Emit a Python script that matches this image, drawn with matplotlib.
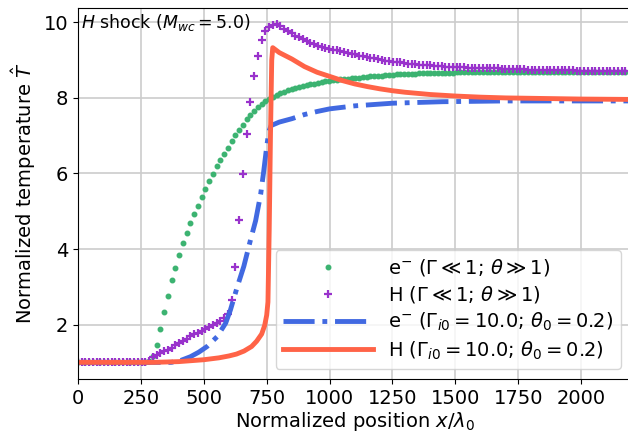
import matplotlib
matplotlib.use("Agg")
import matplotlib.pyplot as plt
import numpy as np

# spacing of the kinetic (Gamma << 1) output points, in x/lambda_0
DX = 14.9

# e- temperature, Gamma << 1, theta >> 1 (one value every DX)
t_e_kin = [
    1.00, 1.00, 1.00, 1.00, 1.00, 1.00, 1.00, 1.00, 1.00, 1.00,
    1.00, 1.00, 1.00, 1.00, 1.00, 1.00, 1.00, 1.00, 1.00, 1.03,
    1.18, 1.46, 1.89, 2.34, 2.77, 3.17, 3.51, 3.84, 4.15, 4.42,
    4.68, 4.93, 5.15, 5.38, 5.59, 5.79, 5.99, 6.19, 6.35, 6.52,
    6.68, 6.85, 7.01, 7.16, 7.29, 7.43, 7.56, 7.66, 7.76, 7.84,
    7.91, 7.97, 8.03, 8.08, 8.12, 8.16, 8.20, 8.23, 8.26, 8.29,
    8.32, 8.34, 8.36, 8.38, 8.40, 8.42, 8.44, 8.46, 8.47, 8.48,
    8.49, 8.50, 8.51, 8.52, 8.53, 8.54, 8.55, 8.56, 8.57, 8.58,
    8.58, 8.59, 8.60, 8.60, 8.61, 8.62, 8.62, 8.63, 8.63, 8.64,
    8.64, 8.65, 8.65, 8.65, 8.66, 8.66, 8.66, 8.67, 8.67, 8.67,
    8.67, 8.68, 8.68, 8.68, 8.68, 8.68, 8.68, 8.68, 8.68, 8.68,
    8.68, 8.68, 8.68, 8.68, 8.68, 8.68, 8.68, 8.68, 8.68, 8.68,
    8.68, 8.68, 8.68, 8.68, 8.68, 8.69, 8.69, 8.69, 8.69, 8.69,
    8.69, 8.69, 8.69, 8.69, 8.69, 8.69, 8.69, 8.69, 8.69, 8.69,
    8.69, 8.69, 8.69, 8.69, 8.69, 8.69, 8.69,
]

# H temperature, Gamma << 1, theta >> 1 (one value every DX)
t_h_kin = [
    1.00, 1.00, 1.00, 1.00, 1.00, 1.00, 1.00, 1.00, 1.00, 1.00,
    1.00, 1.00, 1.00, 1.00, 1.00, 1.00, 1.00, 1.00, 1.00, 1.03,
    1.14, 1.19, 1.24, 1.29, 1.34, 1.39, 1.45, 1.51, 1.57, 1.63,
    1.69, 1.74, 1.79, 1.84, 1.89, 1.94, 1.98, 2.03, 2.09, 2.17,
    2.28, 2.64, 3.52, 4.78, 5.99, 7.05, 7.89, 8.59, 9.11, 9.52,
    9.76, 9.87, 9.94, 9.95, 9.90, 9.83, 9.77, 9.71, 9.65, 9.60,
    9.55, 9.51, 9.46, 9.42, 9.38, 9.35, 9.32, 9.30, 9.28, 9.26,
    9.23, 9.21, 9.19, 9.17, 9.15, 9.12, 9.10, 9.08, 9.06, 9.05,
    9.03, 9.01, 8.99, 8.98, 8.96, 8.95, 8.94, 8.92, 8.91, 8.90,
    8.89, 8.88, 8.87, 8.86, 8.86, 8.85, 8.84, 8.84, 8.83, 8.83,
    8.82, 8.82, 8.81, 8.81, 8.80, 8.80, 8.80, 8.79, 8.79, 8.79,
    8.78, 8.78, 8.78, 8.77, 8.77, 8.77, 8.76, 8.76, 8.76, 8.76,
    8.75, 8.75, 8.75, 8.75, 8.74, 8.74, 8.74, 8.74, 8.73, 8.73,
    8.73, 8.73, 8.73, 8.72, 8.72, 8.72, 8.72, 8.72, 8.71, 8.71,
    8.71, 8.71, 8.71, 8.71, 8.70, 8.70, 8.70,
]

# e- temperature, Gamma_i0 = 10, theta_0 = 0.2
x_e_fluid = [0, 370, 400, 447, 480, 513, 553, 587, 606, 633, 659, 686, 706,
             726, 738, 748, 758, 768, 800, 850, 900, 950, 1000, 1100, 1250,
             1450, 1700, 2000, 2200]
t_e_fluid = [1.00, 1.00, 1.03, 1.15, 1.27, 1.42, 1.68, 2.04, 2.39, 3.00, 3.54,
             4.25, 4.75, 5.45, 6.05, 6.60, 7.10, 7.27, 7.36, 7.45, 7.56, 7.64,
             7.71, 7.79, 7.86, 7.90, 7.92, 7.92, 7.92]

# H temperature, Gamma_i0 = 10, theta_0 = 0.2
x_h_fluid = [0, 300, 400, 500, 560, 600, 630, 660, 690, 710, 730, 742, 750,
             755, 760, 765, 770, 774, 800, 850, 900, 950, 1000, 1050, 1100,
             1150, 1200, 1250, 1300, 1400, 1500, 1600, 1700, 1800, 1900,
             2000, 2200]
t_h_fluid = [1.00, 1.00, 1.02, 1.07, 1.12, 1.17, 1.22, 1.30, 1.42, 1.56, 1.75,
             1.98, 2.25, 2.60, 4.50, 7.00, 9.00, 9.33, 9.20, 9.03, 8.83, 8.68,
             8.57, 8.46, 8.37, 8.30, 8.24, 8.19, 8.15, 8.09, 8.05, 8.02, 8.00,
             7.99, 7.98, 7.97, 7.96]

x_kin = DX * np.arange(len(t_e_kin))

fs = 14
fig = plt.figure(figsize=(6.28, 4.34), dpi=100)
ax = fig.add_axes([78 / 628, 55 / 434, 553 / 628, 371 / 434])

ax.plot(x_kin, t_e_kin, ls='none', marker='.', ms=6.5, color='mediumseagreen',
        label=r'e$^{-}$ ($\Gamma \ll 1$; $\theta \gg 1$)')
ax.plot(x_kin, t_h_kin, ls='none', marker='+', ms=6, mew=1.6, color='darkorchid',
        label=r'H ($\Gamma \ll 1$; $\theta \gg 1$)')
ax.plot(x_e_fluid, t_e_fluid, ls='-.', lw=3.5, color='royalblue',
        label=r'e$^{-}$ ($\Gamma_{i0} = 10.0$; $\theta_0 = 0.2$)')
ax.plot(x_h_fluid, t_h_fluid, ls='-', lw=3.5, color='tomato',
        label=r'H ($\Gamma_{i0} = 10.0$; $\theta_0 = 0.2$)')

ax.set_xlim(0, 2198)
ax.set_ylim(0.56, 10.38)
ax.grid(True, color='#cccccc', lw=1.2)
ax.tick_params(labelsize=fs)
ax.set_xlabel(r'Normalized position $x/\lambda_0$', fontsize=fs, labelpad=1.5)
ax.set_ylabel(r'Normalized temperature $\hat{T}$', fontsize=fs)
ax.text(0.006, 0.99, r'$H$ shock ($M_{wc} = 5.0$)', transform=ax.transAxes,
        ha='left', va='top', fontsize=12.5)
ax.legend(loc='lower right', fontsize=fs, handlelength=4.6, labelspacing=0.3)

fig.savefig('out.png', dpi=100)
